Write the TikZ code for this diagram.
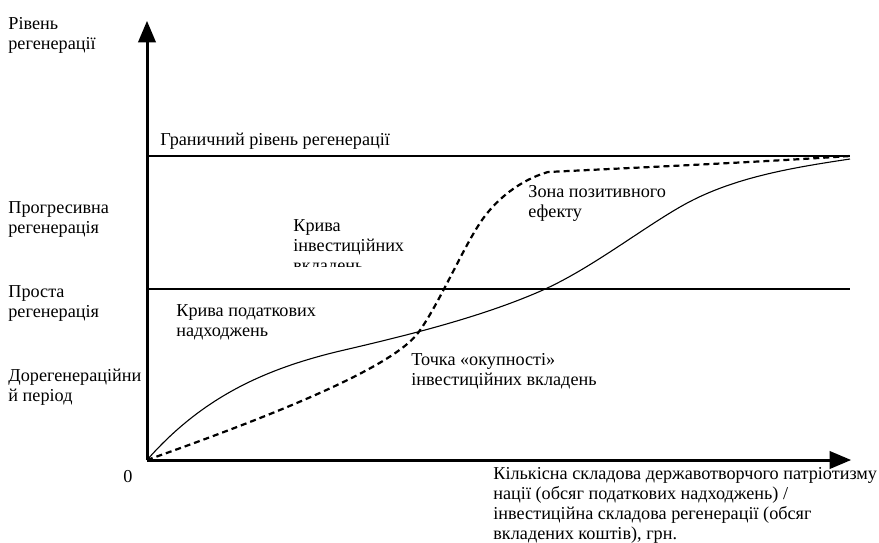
\documentclass[tikz,border=0pt]{standalone}
\usepackage{fontspec}
\setmainfont{Liberation Serif}
\usepackage{tikz}
\usetikzlibrary{arrows}
\tikzset{
  axis/.style={line width=1.5pt,->,>=triangle 45},
  level/.style={line width=0.55pt},
  taxcurve/.style={line width=0.55pt},
  investcurve/.style={line width=1.1pt,dash pattern=on 3pt off 2pt},
  lbl/.style={anchor=north west,inner sep=0pt,align=left,font=\fontsize{9.1}{10}\selectfont}
}
\begin{document}
\begin{tikzpicture}[line cap=butt,line join=round,x=0.5pt,y=-0.5pt]
  \useasboundingbox (0,0) rectangle (879,542);
  % axes
  \coordinate (O) at (147,460);
  \coordinate (ytop) at (147,21);
  \coordinate (xend) at (851,460);
  \draw [axis] (O) -- (ytop);
  \draw [axis] (O) -- (xend);
  % levels of regeneration
  \coordinate (limA) at (147,156);
  \coordinate (limB) at (850,156);
  \coordinate (simA) at (147,289);
  \coordinate (simB) at (850,289);
  \draw [level] (limA) -- (limB);
  \draw [level] (simA) -- (simB);
  % tax revenue curve
  \draw [taxcurve] (O) .. controls (200,400) and (260,370) .. (340,351)
    .. controls (400,337) and (480,318) .. (543,290)
    .. controls (590,269) and (640,230) .. (680,207)
    .. controls (730,178) and (790,168) .. (850,159);
  % investment curve
  \draw [investcurve] (O) .. controls (260,420) and (390,370) .. (418,333)
    .. controls (438,306) and (462,250) .. (480,223)
    .. controls (495,200) and (520,180) .. (548,172)
    .. controls (650,167) and (760,162) .. (850,156);
  % labels
  \node [lbl] (yname) at (8,17) {Рівень\\регенерації};
  \node [lbl] (limit) at (160,133) {Граничний рівень регенерації};
  \node [lbl] (progr) at (8,201) {Прогресивна\\регенерація};
  \node [lbl] (simple) at (8,285) {Проста\\регенерація};
  \node [lbl] (prereg) at (8,369) {Дорегенераційни\\й період};
  \begin{scope}
    \clip (280,200) rectangle (480,266);
    \node [lbl] (invname) at (293,219) {Крива\\інвестиційних\\вкладень};
  \end{scope}
  \node [lbl] (taxname) at (176,304) {Крива податкових\\надходжень};
  \node [lbl] (payback) at (411,353) {Точка «окупності»\\інвестиційних вкладень};
  \node [lbl] (zone) at (528,185) {Зона позитивного\\ефекту};
  \node [lbl] (xname) at (493,467) {Кількісна складова державотворчого патріотизму\\нації (обсяг податкових надходжень) /\\інвестиційна складова регенерації (обсяг\\вкладених коштів), грн.};
  \node [lbl] (zero) at (123,470) {0};
\end{tikzpicture}
\end{document}
